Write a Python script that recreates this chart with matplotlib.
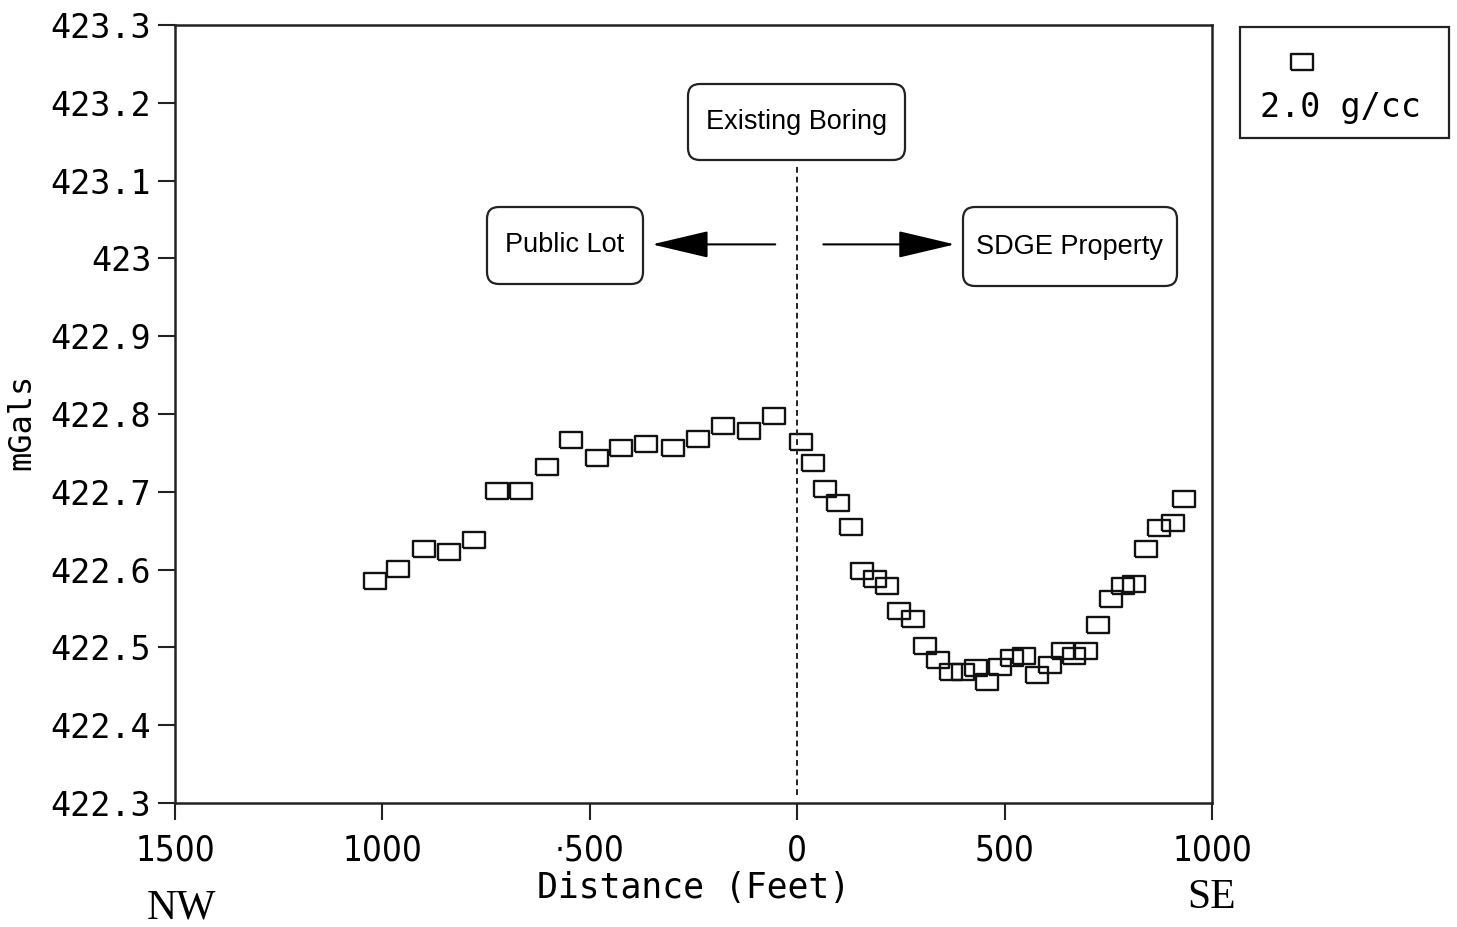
import numpy as np
import matplotlib
matplotlib.use('Agg')
import matplotlib.pyplot as plt
from matplotlib.patches import FancyBboxPatch, Rectangle
from matplotlib.lines import Line2D
from matplotlib.ticker import FixedLocator, FixedFormatter

# gravity profile, 2.0 g/cc reduction
dist_nw = [-1017, -962, -899, -839, -779, -723, -665, -603, -545, -482,
           -424, -364, -299, -239, -178, -116, -55]
mgal_nw = [422.585, 422.601, 422.626, 422.623, 422.638, 422.701, 422.701,
           422.732, 422.767, 422.744, 422.756, 422.762, 422.756, 422.768,
           422.785, 422.778, 422.797]

dist_se = [9, 38, 67, 98, 129, 157, 188, 216, 246, 278, 308, 340, 371, 399,
           431, 458, 489, 519, 547, 577, 609, 640, 668, 696, 726, 756, 785,
           812, 841, 872, 905, 933]
mgal_se = [422.764, 422.737, 422.703, 422.685, 422.655, 422.598, 422.588,
           422.579, 422.547, 422.537, 422.502, 422.484, 422.468, 422.468,
           422.473, 422.455, 422.475, 422.487, 422.489, 422.465, 422.478,
           422.496, 422.489, 422.496, 422.529, 422.562, 422.579, 422.581,
           422.626, 422.654, 422.660, 422.691]

x_ticks = [-1500, -1000, -500, 0, 500, 1000]
x_labels = ['1500', '1000', '\u00b7500', '0', '500', '1000']
y_ticks = [422.3, 422.4, 422.5, 422.6, 422.7, 422.8, 422.9, 423.0, 423.1, 423.2, 423.3]
y_labels = ['422.3', '422.4', '422.5', '422.6', '422.7', '422.8', '422.9',
            '423', '423.1', '423.2', '423.3']

legend_label = '2.0 g/cc'

mono = 'DejaVu Sans Mono'

# flat rectangle marker, like the plotter symbol
rect = [(-1, -0.72), (1, -0.72), (1, 0.72), (-1, 0.72), (-1, -0.72)]

fig = plt.figure(figsize=(14.57, 9.27), dpi=100)
ax = fig.add_axes([175 / 1457, 1 - 803 / 927, 1037 / 1457, 778 / 927])

dist = dist_nw + dist_se
mgal = mgal_nw + mgal_se
ax.plot(dist, mgal, linestyle='none', marker=rect, markersize=15.5,
        markerfacecolor='none', markeredgecolor='#111111', markeredgewidth=1.7)

ax.set_xlim(-1500, 1000)
ax.set_ylim(422.3, 423.3)
ax.xaxis.set_major_locator(FixedLocator(x_ticks))
ax.xaxis.set_major_formatter(FixedFormatter(x_labels))
ax.yaxis.set_major_locator(FixedLocator(y_ticks))
ax.yaxis.set_major_formatter(FixedFormatter(y_labels))
ax.tick_params(direction='out', length=12, width=1.5, color='#222222')
ax.tick_params(axis='x', pad=10)
ax.tick_params(axis='y', pad=5)
for lab in ax.get_xticklabels():
    lab.set_family('DejaVu Sans')
    lab.set_stretch('condensed')
    lab.set_fontsize(25)
for lab in ax.get_yticklabels():
    lab.set_family(mono)
    lab.set_fontsize(24)
for sp in ax.spines.values():
    sp.set_linewidth(1.8)
    sp.set_color('#222222')

ax.set_xlabel('Distance (Feet)', family=mono, fontsize=25)
ax.xaxis.set_label_coords(0.5, -0.087)
ax.set_ylabel('mGals', family=mono, fontsize=23)
ax.yaxis.set_label_coords(-0.133, 0.49)

# boring location
ax.plot([0, 0], [422.31, 423.12], color='#222222', lw=1.4, linestyle=(0, (3, 2)))

arrow = dict(arrowstyle='-|>,head_length=36,head_width=8.5', mutation_scale=1,
             color='black', lw=1.5, shrinkA=0, shrinkB=0)
ax.annotate('', xy=(-350, 423.018), xytext=(-53, 423.018), arrowprops=arrow)
ax.annotate('', xy=(380, 423.018), xytext=(63, 423.018), arrowprops=arrow)

# labelled boxes, laid out in inches from the lower-left corner
def label_box(x0, y0, x1, y1, text):
    box = FancyBboxPatch((x0 / 100, (927 - y1) / 100), (x1 - x0) / 100, (y1 - y0) / 100,
                         boxstyle='round,pad=0,rounding_size=0.12',
                         transform=fig.dpi_scale_trans, facecolor='white',
                         edgecolor='#222222', lw=1.6, zorder=5)
    fig.patches.append(box)
    fig.text((x0 + x1) / 2 / 1457, 1 - (y0 + y1) / 2 / 927, text,
             ha='center', va='center', fontsize=19.5, family='Liberation Sans',
             zorder=6)

label_box(688, 84, 905, 160, 'Existing Boring')
label_box(487, 207, 643, 284, 'Public Lot')
label_box(963, 207, 1177, 286, 'SDGE Property')

# legend panel
fig.patches.append(Rectangle((1240 / 100, (927 - 138) / 100), 2.09, 1.11,
                             transform=fig.dpi_scale_trans, facecolor='white',
                             edgecolor='#222222', lw=1.6))
fig.lines.append(Line2D([1302 / 1457], [1 - 62 / 927], transform=fig.transFigure,
                        linestyle='none', marker=rect, markersize=15.5,
                        markerfacecolor='none', markeredgecolor='#111111',
                        markeredgewidth=1.7))
fig.text(1341 / 1457, 1 - 107 / 927, legend_label, ha='center', va='center',
         family=mono, fontsize=24)

fig.text(182 / 1457, 1 - 908 / 927, 'NW', ha='center', va='center',
         family='Liberation Serif', fontsize=30)
fig.text(1212 / 1457, 1 - 898 / 927, 'SE', ha='center', va='center',
         family='Liberation Serif', fontsize=30)

fig.savefig('out.png', dpi=100)
